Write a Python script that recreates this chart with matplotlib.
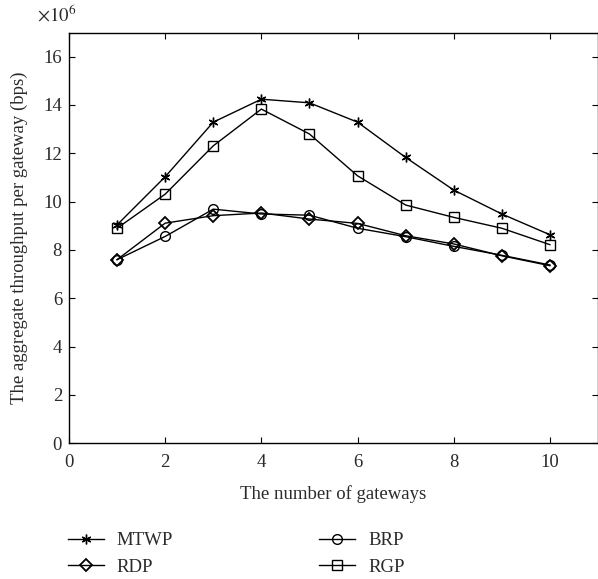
import matplotlib
matplotlib.use("Agg")
import matplotlib.pyplot as plt

plt.rcParams['font.family'] = ['Liberation Serif', 'DejaVu Serif']
plt.rcParams['mathtext.fontset'] = 'stix'

# data (throughput in units of 1e6 bps)
gateways = [1, 2, 3, 4, 5, 6, 7, 8, 9, 10]
mtwp = [9.04, 11.03, 13.29, 14.24, 14.09, 13.29, 11.83, 10.48, 9.49, 8.63]
rdp = [7.6, 9.11, 9.42, 9.53, 9.28, 9.1, 8.59, 8.25, 7.76, 7.35]
brp = [7.6, 8.56, 9.69, 9.49, 9.44, 8.9, 8.55, 8.15, 7.78, 7.38]
rgp = [8.9, 10.31, 12.31, 13.83, 12.8, 11.07, 9.86, 9.35, 8.9, 8.22]

xticks = [0, 2, 4, 6, 8, 10]
yticks = [0, 2, 4, 6, 8, 10, 12, 14, 16]

txt = '#2a2a2a'
fs = 13.5
fig = plt.figure(figsize=(5.98, 5.79), dpi=100)
ax = fig.add_axes([69/598, 1 - 443.3/579, 1 - 69/598, 410.8/579])

lw = 1.0
ax.plot(gateways, mtwp, color='k', lw=lw, marker=(6, 2, 0), ms=7, mew=1.0, label='MTWP')
ax.plot(gateways, rdp, color='k', lw=lw, marker='D', ms=6, mfc='none', mew=1.3, label='RDP')
ax.plot(gateways, brp, color='k', lw=lw, marker='o', ms=7, mfc='none', mew=1.0, label='BRP')
ax.plot(gateways, rgp, color='k', lw=lw, marker='s', ms=7, mfc='none', mew=1.0, label='RGP')

ax.set_xlim(0, 11)
ax.set_ylim(0, 17)
ax.set_xticks(xticks)
ax.set_yticks(yticks)
ax.tick_params(direction='in', top=True, right=True, length=4, width=0.8,
               labelsize=fs, colors='k', labelcolor=txt, pad=5)
ax.tick_params(axis='x', pad=8)
for s in ax.spines.values():
    s.set_linewidth(1.0)

ax.set_xlabel('The number of gateways', fontsize=fs, color=txt, labelpad=10)
ax.set_ylabel('The aggregate throughput per gateway (bps)', fontsize=fs, color=txt, labelpad=11)
fig.text(37/598, 1 - 15/579, r'$\times10^6$', fontsize=fs, color=txt, va='center', ha='left')

fig.legend(loc='upper left', bbox_to_anchor=(68/598, 1 - 532/579), ncol=2, frameon=False,
           fontsize=fs, handlelength=1.9, handletextpad=0.7, columnspacing=7.8,
           labelspacing=0.5, borderpad=0, borderaxespad=0, labelcolor=txt)

fig.savefig('out.png', dpi=100)
